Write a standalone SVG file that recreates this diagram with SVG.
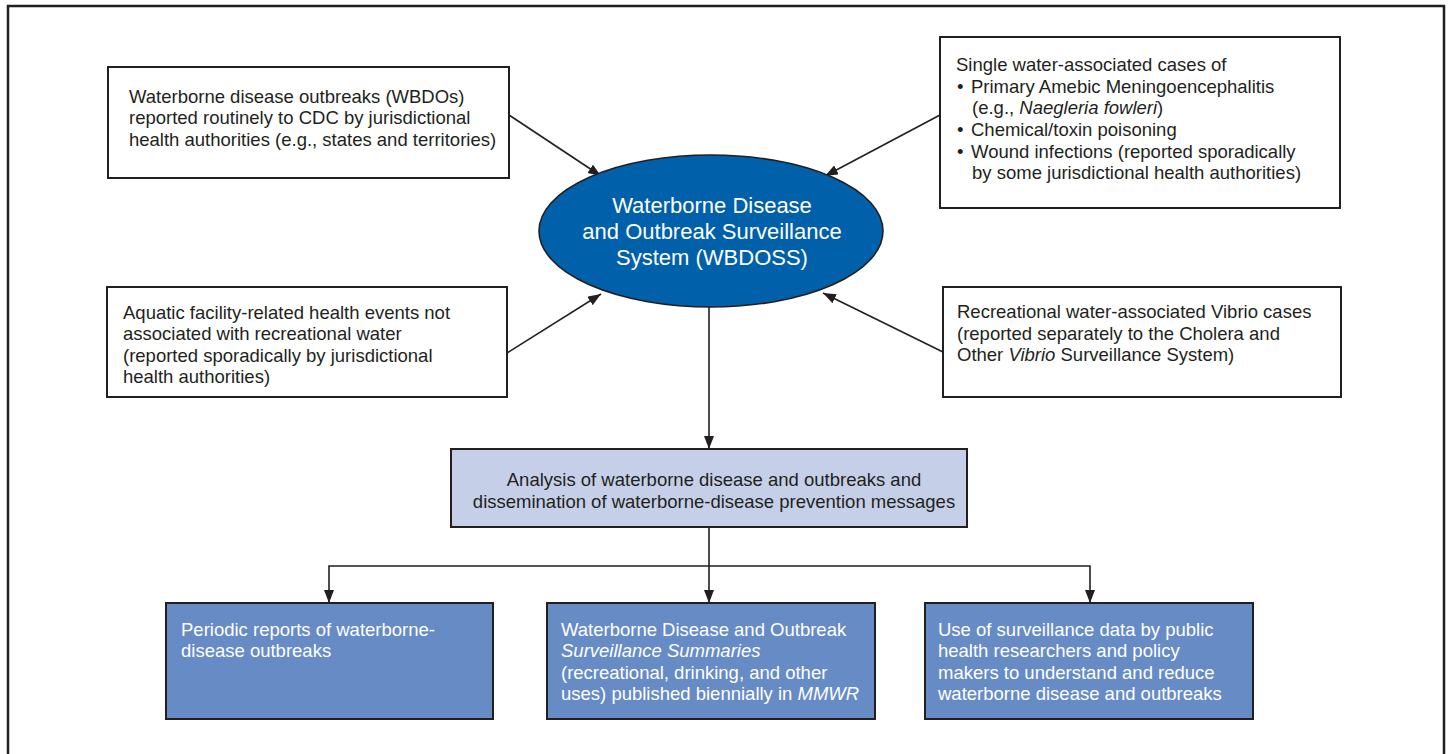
<svg xmlns="http://www.w3.org/2000/svg" width="1448" height="754" viewBox="0 0 1448 754">
<defs>
<marker id="ah" markerUnits="userSpaceOnUse" markerWidth="14" markerHeight="12" refX="13" refY="5" orient="auto">
<path d="M0,0 L13,5 L0,10 z" fill="#231f20"/>
</marker>
<style>
.box{fill:#fff;stroke:#231f20;stroke-width:2}
.ana{fill:#c5d0e8;stroke:#231f20;stroke-width:2}
.out{fill:#668bc5;stroke:#231f20;stroke-width:2}
.t{font-family:"Liberation Sans",Arial,Helvetica,sans-serif;font-size:18.5px;fill:#231f20}
.w{font-family:"Liberation Sans",Arial,Helvetica,sans-serif;font-size:18.5px;fill:#ffffff}
.e{font-family:"Liberation Sans",Arial,Helvetica,sans-serif;font-size:22px;fill:#ffffff;text-anchor:middle}
.c{fill:none;stroke:#231f20;stroke-width:1.6}
</style>
</defs>
<rect width="1448" height="754" fill="#ffffff"/>
<g id="frame">
<path d="M8,760 L8,6 L1444,6 L1444,760" fill="none" stroke="#231f20" stroke-width="2.5"/>
</g>
<g id="connectors">
<path class="c" d="M509,115 L601,176" marker-end="url(#ah)"/>
<path class="c" d="M940,115 L825,176" marker-end="url(#ah)"/>
<path class="c" d="M507,353 L601,294" marker-end="url(#ah)"/>
<path class="c" d="M943,352 L823,293" marker-end="url(#ah)"/>
<path class="c" d="M709,307 L709,449" marker-end="url(#ah)"/>
<path class="c" d="M709,527 L709,603" marker-end="url(#ah)"/>
<path class="c" d="M709,566 L329,566 L329,603" marker-end="url(#ah)"/>
<path class="c" d="M709,566 L1090,566 L1090,603" marker-end="url(#ah)"/>
</g>
<g id="wbdo">
<rect class="box" x="108" y="67" width="401" height="111"/>
<text class="t" x="129" y="102.5">Waterborne disease outbreaks (WBDOs)</text>
<text class="t" x="129" y="124">reported routinely to CDC by jurisdictional</text>
<text class="t" x="129" y="145.5">health authorities (e.g., states and territories)</text>
</g>
<g id="single">
<rect class="box" x="940" y="37" width="400" height="171"/>
<text class="t" x="956" y="71">Single water-associated cases of</text>
<text class="t" x="957" y="92.7">•</text>
<text class="t" x="971" y="92.7">Primary Amebic Meningoencephalitis</text>
<text class="t" x="972" y="114.3">(e.g., <tspan font-style="italic">Naegleria fowleri</tspan>)</text>
<text class="t" x="957" y="136">•</text>
<text class="t" x="971" y="136">Chemical/toxin poisoning</text>
<text class="t" x="957" y="157.7">•</text>
<text class="t" x="971" y="157.7">Wound infections (reported sporadically</text>
<text class="t" x="972" y="179.3">by some jurisdictional health authorities)</text>
</g>
<g id="wbdoss">
<ellipse cx="711" cy="231" rx="172" ry="76" fill="#0060a9" stroke="#231f20" stroke-width="1.6"/>
<text class="e" x="712" y="213">Waterborne Disease</text>
<text class="e" x="712" y="239">and Outbreak Surveillance</text>
<text class="e" x="712" y="265">System (WBDOSS)</text>
</g>
<g id="aquatic">
<rect class="box" x="107" y="287" width="400" height="110"/>
<text class="t" x="123" y="318.5">Aquatic facility-related health events not</text>
<text class="t" x="123" y="340">associated with recreational water</text>
<text class="t" x="123" y="361.5">(reported sporadically by jurisdictional</text>
<text class="t" x="123" y="383">health authorities)</text>
</g>
<g id="vibrio">
<rect class="box" x="943" y="287" width="398" height="110"/>
<text class="t" x="957" y="318">Recreational water-associated Vibrio cases</text>
<text class="t" x="957" y="339.5">(reported separately to the Cholera and</text>
<text class="t" x="957" y="361">Other <tspan font-style="italic">Vibrio</tspan> Surveillance System)</text>
</g>
<g id="analysis">
<rect class="ana" x="451" y="449" width="516" height="78"/>
<text class="t" x="714" y="486" text-anchor="middle">Analysis of waterborne disease and outbreaks and</text>
<text class="t" x="714" y="507.5" text-anchor="middle">dissemination of waterborne-disease prevention messages</text>
</g>
<g id="periodic">
<rect class="out" x="166" y="603" width="327" height="116"/>
<text class="w" x="181" y="635.5">Periodic reports of waterborne-</text>
<text class="w" x="181" y="657">disease outbreaks</text>
</g>
<g id="summaries">
<rect class="out" x="547" y="603" width="328" height="116"/>
<text class="w" x="561" y="635.5">Waterborne Disease and Outbreak</text>
<text class="w" x="561" y="657" font-style="italic">Surveillance Summaries</text>
<text class="w" x="561" y="678.5">(recreational, drinking, and other</text>
<text class="w" x="561" y="700">uses) published biennially in <tspan font-style="italic">MMWR</tspan></text>
</g>
<g id="use">
<rect class="out" x="925" y="603" width="328" height="116"/>
<text class="w" x="938" y="635.5">Use of surveillance data by public</text>
<text class="w" x="938" y="657">health researchers and policy</text>
<text class="w" x="938" y="678.5">makers to understand and reduce</text>
<text class="w" x="938" y="700">waterborne disease and outbreaks</text>
</g>
</svg>
